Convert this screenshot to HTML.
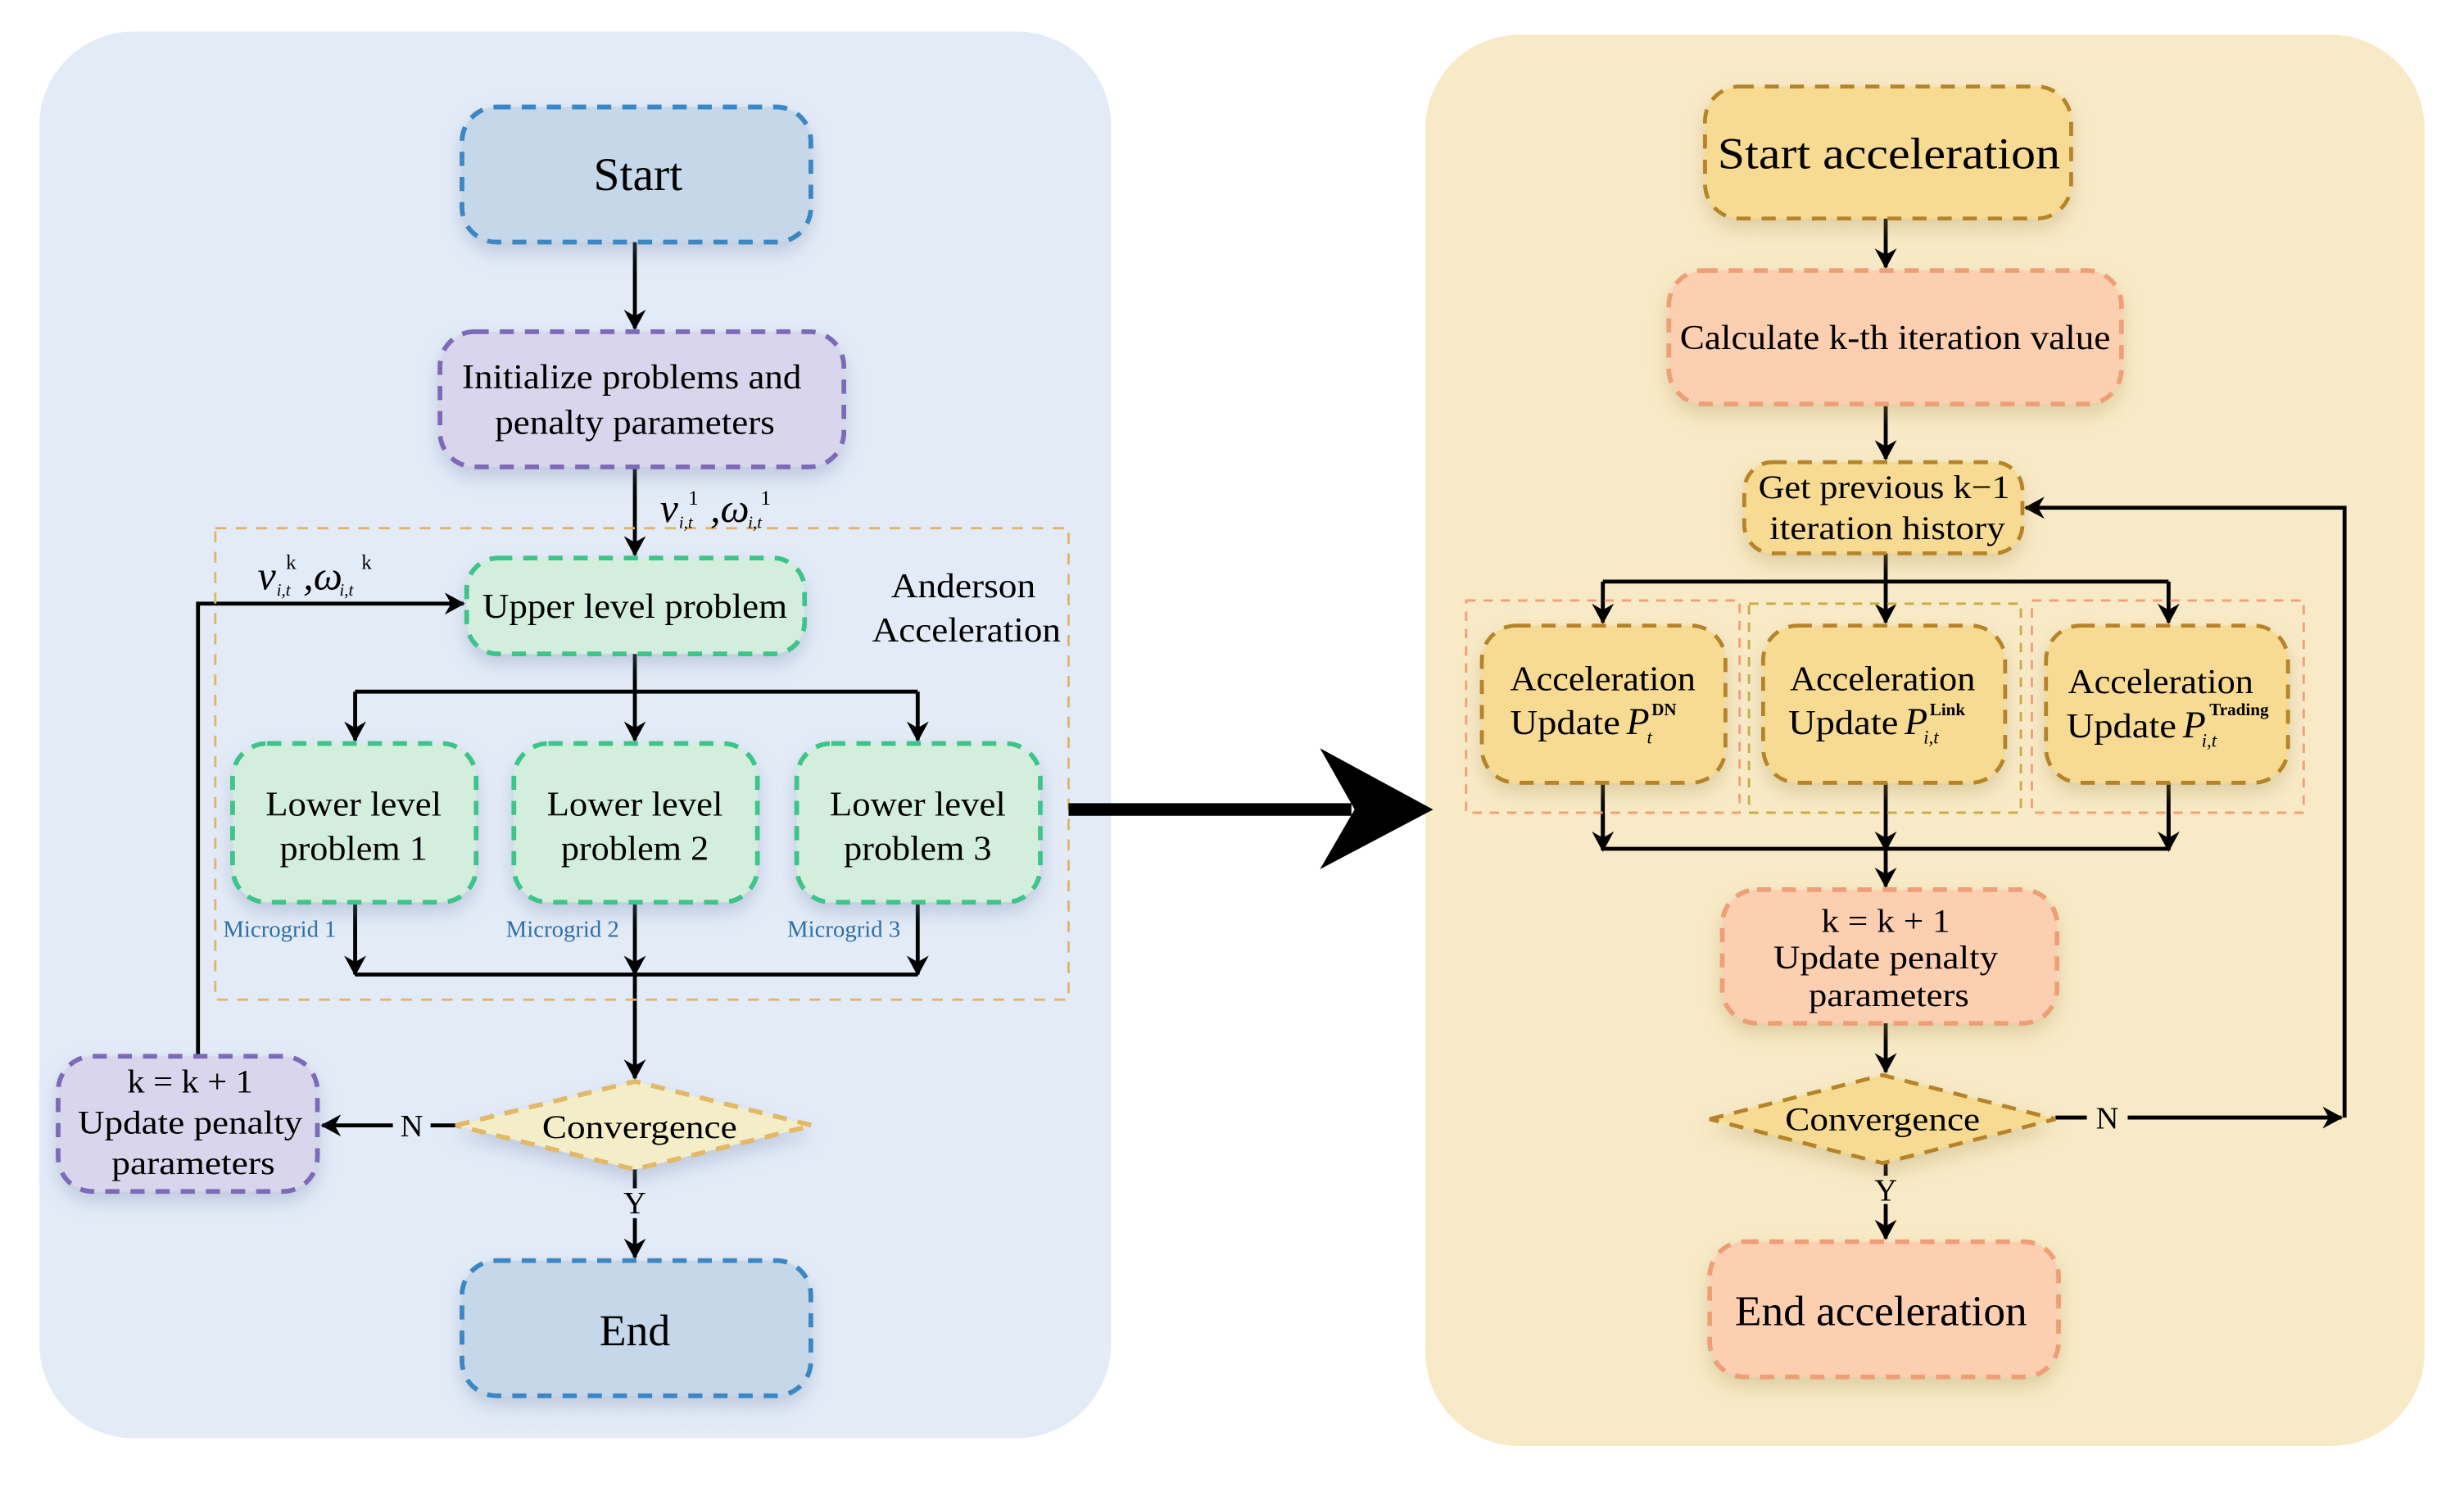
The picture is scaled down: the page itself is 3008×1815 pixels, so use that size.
<!DOCTYPE html>
<html><head><meta charset="utf-8"><style>html,body{margin:0;padding:0;background:#fff}svg{display:block}svg text{font-family:"Liberation Serif","Times New Roman",serif}</style></head>
<body>
<svg width="3008" height="1815" viewBox="0 0 1568 946" xmlns="http://www.w3.org/2000/svg">
<defs>
<marker id="a" markerWidth="14" markerHeight="14" refX="12" refY="7" orient="auto" markerUnits="userSpaceOnUse">
<path d="M0,0 L13,7 L0,14 L4,7 z" fill="#000"/></marker>
<filter id="sh" x="-20%" y="-20%" width="140%" height="160%"><feDropShadow dx="0" dy="6" stdDeviation="6" flood-color="#7a8fb0" flood-opacity="0.35"/></filter>
<filter id="sh2" x="-20%" y="-20%" width="140%" height="160%"><feDropShadow dx="0" dy="6" stdDeviation="6" flood-color="#b09a60" flood-opacity="0.35"/></filter>
</defs>
<rect width="1568" height="946" fill="#fff"/>
<rect x="25" y="20" width="682" height="895" rx="60" fill="#e3ebf7"/>
<rect x="907" y="22" width="636" height="898" rx="60" fill="#f8eac7"/>

<!-- LEFT -->
<g stroke="#000" stroke-width="2.5" fill="none">
<line x1="404" y1="154" x2="404" y2="209" marker-end="url(#a)"/>
<line x1="404" y1="297" x2="404" y2="353" marker-end="url(#a)"/>
<line x1="404" y1="416" x2="404" y2="440"/>
<line x1="226" y1="440" x2="584" y2="440"/>
<line x1="226" y1="440" x2="226" y2="471" marker-end="url(#a)"/>
<line x1="404" y1="440" x2="404" y2="471" marker-end="url(#a)"/>
<line x1="584" y1="440" x2="584" y2="471" marker-end="url(#a)"/>
<line x1="226" y1="574" x2="226" y2="620" marker-end="url(#a)"/>
<line x1="404" y1="574" x2="404" y2="620" marker-end="url(#a)"/>
<line x1="584" y1="574" x2="584" y2="620" marker-end="url(#a)"/>
<line x1="226" y1="620" x2="584" y2="620"/>
<line x1="404" y1="620" x2="404" y2="686" marker-end="url(#a)"/>
<line x1="404" y1="744" x2="404" y2="756"/>
<line x1="404" y1="775" x2="404" y2="800" marker-end="url(#a)"/>
<line x1="290" y1="716" x2="274" y2="716"/>
<line x1="250" y1="716" x2="205" y2="716" marker-end="url(#a)"/>
<polyline points="126,672 126,384 295,384" marker-end="url(#a)"/>
</g>
<rect x="137" y="336" width="543" height="300" fill="none" stroke="#e0b46c" stroke-width="1.5" stroke-dasharray="7,6"/>

<g stroke-width="3" stroke-dasharray="9,7">
<rect x="294" y="68" width="222" height="86" rx="22" fill="#c6d7e9" stroke="#3a87c4" filter="url(#sh)"/>
<rect x="280" y="211" width="257" height="86" rx="22" fill="#d9d5ec" stroke="#7b6bb8" filter="url(#sh)"/>
<rect x="297" y="355" width="215" height="61" rx="20" fill="#d4eedd" stroke="#3cc48a" filter="url(#sh)"/>
<rect x="148" y="473" width="155" height="101" rx="22" fill="#d4eedd" stroke="#3cc48a" filter="url(#sh)"/>
<rect x="327" y="473" width="155" height="101" rx="22" fill="#d4eedd" stroke="#3cc48a" filter="url(#sh)"/>
<rect x="507" y="473" width="155" height="101" rx="22" fill="#d4eedd" stroke="#3cc48a" filter="url(#sh)"/>
<rect x="37" y="672" width="165" height="86" rx="22" fill="#d9d5ec" stroke="#7b6bb8" filter="url(#sh)"/>
<polygon points="290,716 404,688 517,716 404,744" fill="#f4eec8" stroke="#e3b868" filter="url(#sh)"/>
<rect x="294" y="802" width="222" height="86" rx="22" fill="#c6d7e9" stroke="#3a87c4" filter="url(#sh)"/>
</g>

<g fill="#000" text-anchor="middle">
<text x="406" y="121" font-size="30">Start</text>
<text x="402" y="247" font-size="22" textLength="216" lengthAdjust="spacingAndGlyphs">Initialize problems and</text>
<text x="404" y="276" font-size="22" textLength="178" lengthAdjust="spacingAndGlyphs">penalty parameters</text>
<text x="404" y="393" font-size="22" textLength="194" lengthAdjust="spacingAndGlyphs">Upper level problem</text>
<text x="225" y="519" font-size="22" textLength="112" lengthAdjust="spacingAndGlyphs">Lower level</text>
<text x="225" y="547" font-size="22" textLength="94" lengthAdjust="spacingAndGlyphs">problem 1</text>
<text x="404" y="519" font-size="22" textLength="112" lengthAdjust="spacingAndGlyphs">Lower level</text>
<text x="404" y="547" font-size="22" textLength="94" lengthAdjust="spacingAndGlyphs">problem 2</text>
<text x="584" y="519" font-size="22" textLength="112" lengthAdjust="spacingAndGlyphs">Lower level</text>
<text x="584" y="547" font-size="22" textLength="94" lengthAdjust="spacingAndGlyphs">problem 3</text>
<text x="613" y="380" font-size="22" textLength="92" lengthAdjust="spacingAndGlyphs">Anderson</text>
<text x="615" y="408" font-size="22" textLength="120" lengthAdjust="spacingAndGlyphs">Acceleration</text>
<text x="407" y="724" font-size="21" textLength="124" lengthAdjust="spacingAndGlyphs">Convergence</text>
<text x="121" y="695" font-size="21" textLength="80" lengthAdjust="spacingAndGlyphs">k = k + 1</text>
<text x="121" y="721" font-size="21" textLength="143" lengthAdjust="spacingAndGlyphs">Update penalty</text>
<text x="123" y="747" font-size="21" textLength="104" lengthAdjust="spacingAndGlyphs">parameters</text>
<text x="262" y="723" font-size="20">N</text>
<text x="404" y="772" font-size="20">Y</text>
<text x="404" y="856" font-size="28">End</text>
</g>
<g fill="#2f6fa5" font-size="15" text-anchor="middle">
<text x="178" y="596">Microgrid 1</text>
<text x="358" y="596">Microgrid 2</text>
<text x="537" y="596">Microgrid 3</text>
</g>
<g font-style="italic" fill="#000">
<text x="420" y="332" font-size="26">v</text><text x="432" y="336" font-size="11">i,t</text><text x="438" y="321" font-size="13" font-style="normal">1</text>
<text x="452" y="332" font-size="26">,ω</text><text x="476" y="336" font-size="11">i,t</text><text x="484" y="321" font-size="13" font-style="normal">1</text>
<text x="164" y="375" font-size="26">v</text><text x="176" y="379" font-size="11">i,t</text><text x="182" y="362" font-size="13" font-style="normal">k</text>
<text x="193" y="375" font-size="26">,ω</text><text x="216" y="379" font-size="11">i,t</text><text x="230" y="362" font-size="13" font-style="normal">k</text>
</g>

<!-- big arrow -->
<line x1="680" y1="515" x2="860" y2="515" stroke="#000" stroke-width="8"/>
<path d="M840,476 L912,515 L840,553 L862,515 z" fill="#000"/>

<!-- RIGHT -->
<g stroke="#000" stroke-width="2.5" fill="none">
<line x1="1200" y1="139" x2="1200" y2="170" marker-end="url(#a)"/>
<line x1="1200" y1="257" x2="1200" y2="292" marker-end="url(#a)"/>
<line x1="1200" y1="352" x2="1200" y2="396" marker-end="url(#a)"/>
<line x1="1020" y1="370" x2="1380" y2="370"/>
<line x1="1020" y1="370" x2="1020" y2="396" marker-end="url(#a)"/>
<line x1="1380" y1="370" x2="1380" y2="396" marker-end="url(#a)"/>
<line x1="1020" y1="498" x2="1020" y2="540"/>
<line x1="1380" y1="498" x2="1380" y2="540"/>
<line x1="1020" y1="540" x2="1380" y2="540"/>
<line x1="1020" y1="518" x2="1020" y2="541" marker-end="url(#a)"/>
<line x1="1380" y1="518" x2="1380" y2="541" marker-end="url(#a)"/>
<line x1="1200" y1="498" x2="1200" y2="541" marker-end="url(#a)"/>
<line x1="1200" y1="540" x2="1200" y2="564" marker-end="url(#a)"/>
<line x1="1200" y1="651" x2="1200" y2="682" marker-end="url(#a)"/>
<line x1="1200" y1="740" x2="1200" y2="748"/>
<line x1="1200" y1="766" x2="1200" y2="788" marker-end="url(#a)"/>
<line x1="1308" y1="711" x2="1328" y2="711"/>
<line x1="1354" y1="711" x2="1490" y2="711" marker-end="url(#a)"/>
<polyline points="1492,711 1492,323 1289,323" marker-end="url(#a)"/>
</g>
<rect x="933" y="382" width="174" height="135" fill="none" stroke="#f0a07a" stroke-width="1.5" stroke-dasharray="6,5"/>
<rect x="1113" y="384" width="173" height="133" fill="none" stroke="#c9ad45" stroke-width="1.5" stroke-dasharray="6,5"/>
<rect x="1293" y="382" width="173" height="135" fill="none" stroke="#f0a07a" stroke-width="1.5" stroke-dasharray="6,5"/>

<g stroke-width="2.5" stroke-dasharray="9,7">
<rect x="1085" y="55" width="233" height="84" rx="22" fill="#f8db92" stroke="#b5842a" filter="url(#sh2)"/>
<rect x="1062" y="172" width="288" height="85" rx="22" fill="#fdcfb1" stroke="#eda077" stroke-width="3" filter="url(#sh2)"/>
<rect x="1110" y="294" width="177" height="58" rx="18" fill="#f8db92" stroke="#b5842a" filter="url(#sh2)"/>
<rect x="943" y="398" width="155" height="100" rx="22" fill="#f8db92" stroke="#b5842a" filter="url(#sh2)"/>
<rect x="1122" y="398" width="154" height="100" rx="22" fill="#f8db92" stroke="#b5842a" filter="url(#sh2)"/>
<rect x="1302" y="398" width="154" height="100" rx="22" fill="#f8db92" stroke="#b5842a" filter="url(#sh2)"/>
<rect x="1096" y="566" width="213" height="85" rx="22" fill="#fdcfb1" stroke="#eda077" stroke-width="3" filter="url(#sh2)"/>
<polygon points="1088,712 1198,684 1308,712 1198,740" fill="#f8db92" stroke="#b5842a" filter="url(#sh2)"/>
<rect x="1088" y="790" width="222" height="86" rx="22" fill="#fdcfb1" stroke="#eda077" stroke-width="3" filter="url(#sh2)"/>
</g>

<g fill="#000" text-anchor="middle">
<text x="1202" y="107" font-size="28" textLength="218" lengthAdjust="spacingAndGlyphs">Start acceleration</text>
<text x="1206" y="222" font-size="22" textLength="274" lengthAdjust="spacingAndGlyphs">Calculate k-th iteration value</text>
<text x="1199" y="317" font-size="21" textLength="160" lengthAdjust="spacingAndGlyphs">Get previous k−1</text>
<text x="1201" y="343" font-size="21" textLength="150" lengthAdjust="spacingAndGlyphs">iteration history</text>
<text x="1020" y="439" font-size="22" textLength="118" lengthAdjust="spacingAndGlyphs">Acceleration</text>
<text x="1198" y="439" font-size="22" textLength="118" lengthAdjust="spacingAndGlyphs">Acceleration</text>
<text x="1375" y="441" font-size="22" textLength="118" lengthAdjust="spacingAndGlyphs">Acceleration</text>
<text x="1200" y="593" font-size="21" textLength="82" lengthAdjust="spacingAndGlyphs">k = k + 1</text>
<text x="1200" y="616" font-size="21" textLength="143" lengthAdjust="spacingAndGlyphs">Update penalty</text>
<text x="1202" y="640" font-size="21" textLength="102" lengthAdjust="spacingAndGlyphs">parameters</text>
<text x="1198" y="719" font-size="21" textLength="124" lengthAdjust="spacingAndGlyphs">Convergence</text>
<text x="1341" y="718" font-size="20">N</text>
<text x="1200" y="764" font-size="20">Y</text>
<text x="1197" y="843" font-size="27" textLength="186" lengthAdjust="spacingAndGlyphs">End acceleration</text>
</g>
<g fill="#000" font-size="22">
<text x="961" y="467" textLength="70" lengthAdjust="spacingAndGlyphs">Update</text>
<text x="1035" y="467" font-style="italic" font-size="24">P</text><text x="1048" y="473" font-size="12" font-style="italic">t</text><text x="1051" y="455" font-size="11" font-weight="bold">DN</text>
<text x="1138" y="467" textLength="70" lengthAdjust="spacingAndGlyphs">Update</text>
<text x="1212" y="467" font-style="italic" font-size="24">P</text><text x="1224" y="473" font-size="12" font-style="italic">i,t</text><text x="1228" y="455" font-size="11" font-weight="bold">Link</text>
<text x="1315" y="469" textLength="70" lengthAdjust="spacingAndGlyphs">Update</text>
<text x="1389" y="469" font-style="italic" font-size="24">P</text><text x="1401" y="475" font-size="12" font-style="italic">i,t</text><text x="1406" y="455" font-size="11" font-weight="bold">Trading</text>
</g>
</svg>
</body></html>
